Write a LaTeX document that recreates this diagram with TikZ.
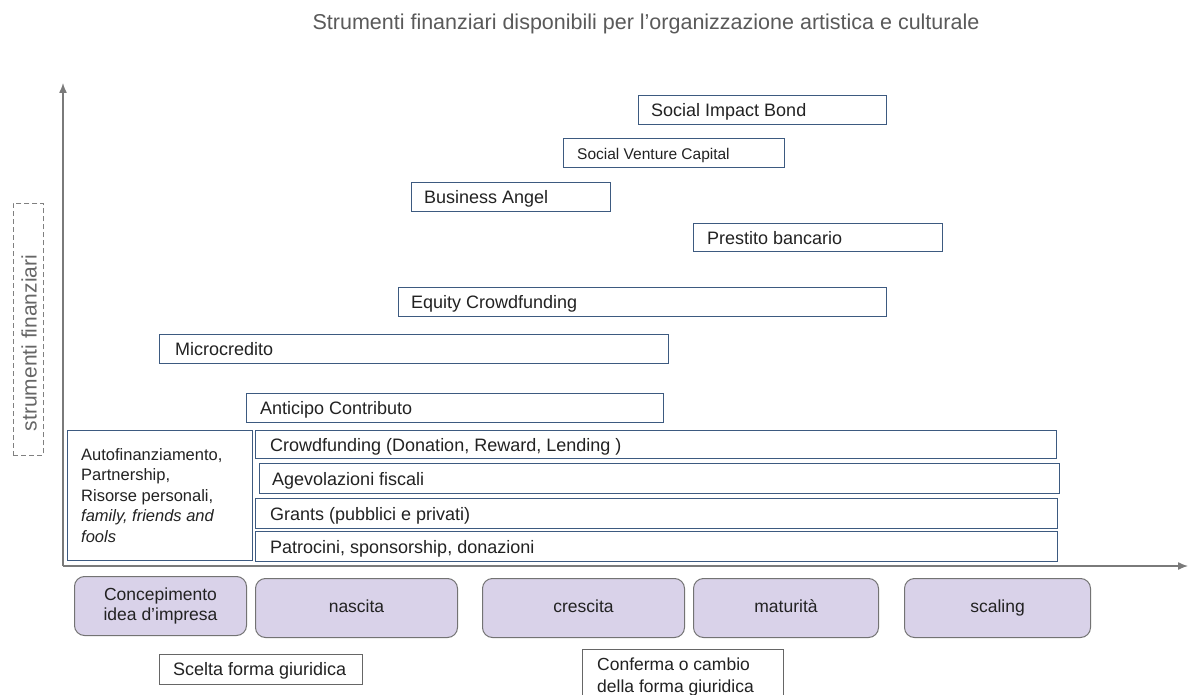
\documentclass[tikz,border=0pt]{standalone}
\usepackage{fontspec}
\setmainfont{Liberation Sans}
\usetikzlibrary{arrows.meta}
\definecolor{bx}{HTML}{3D5A80}
\definecolor{stg}{HTML}{D9D2E9}
\definecolor{axc}{HTML}{7A7A7A}
\definecolor{tit}{HTML}{5A5A5A}
\definecolor{txt}{HTML}{222222}
\begin{document}
\begin{tikzpicture}[x=1pt,y=-1pt,
  fbox/.style={draw=bx, line width=1.2pt, inner sep=0pt, anchor=north west},
  gbox/.style={draw=black!60, line width=0.9pt, inner sep=0pt, anchor=north west},
  lbl/.style={anchor=west, inner sep=0pt, yshift=-2pt, text=txt, text height=13pt, text depth=4pt, font=\fontsize{18}{21}\selectfont},
  stage/.style={draw=black!55, fill=stg, rounded corners=10pt, line width=1pt, inner sep=0pt,
     anchor=north west, align=center, text=txt, font=\fontsize{17.5}{21}\selectfont},
  axis/.style={draw=axc, line width=1.4pt, -{Latex[length=10pt,width=8pt]}}]
\useasboundingbox (0,0) rectangle (1191,695);
\clip (0,0) rectangle (1191,695);
\fill[white] (0,0) rectangle (1191,695);

% title
\node[text=tit, font=\fontsize{21.5}{25}\selectfont, inner sep=0pt] (title) at (646,24)
  {Strumenti finanziari disponibili per l’organizzazione artistica e culturale};

% axes
\coordinate (o) at (63,566);
\coordinate (ytip) at (63,83);
\coordinate (xtip) at (1188,566);
\draw[axis] (o) -- (ytip);
\draw[axis] (o) -- (xtip);

% y label
\node[draw=black!50, dashed, dash pattern=on 5pt off 3pt, line width=0.8pt,
  minimum width=30pt, minimum height=252pt, inner sep=0pt, anchor=north west] (ylab) at (13,203) {};
\node[rotate=90, text=black!60, font=\fontsize{21}{25}\selectfont, inner sep=0pt] (ytext) at (29,343) {strumenti finanziari};

% instrument boxes
\node[fbox, minimum width=248pt, minimum height=29pt] (sib) at (638,95) {};
\node[lbl] at ([xshift=13pt]sib.west) {Social Impact Bond};
\node[fbox, minimum width=221pt, minimum height=29pt] (svc) at (563,138) {};
\node[lbl, font=\fontsize{15.5}{19}\selectfont, text height=11.5pt, text depth=3.5pt] at ([xshift=14pt]svc.west) {Social Venture Capital};
\node[fbox, minimum width=199pt, minimum height=29pt] (ba) at (411,182) {};
\node[lbl] at ([xshift=13pt]ba.west) {Business Angel};
\node[fbox, minimum width=249pt, minimum height=28pt] (pb) at (693,223) {};
\node[lbl] at ([xshift=14pt]pb.west) {Prestito bancario};
\node[fbox, minimum width=488pt, minimum height=29pt] (ec) at (398,287) {};
\node[lbl] at ([xshift=13pt]ec.west) {Equity Crowdfunding};
\node[fbox, minimum width=509pt, minimum height=29pt] (mc) at (159,334) {};
\node[lbl] at ([xshift=16pt]mc.west) {Microcredito};
\node[fbox, minimum width=417pt, minimum height=29pt] (ac) at (246,393) {};
\node[lbl] at ([xshift=14pt]ac.west) {Anticipo Contributo};

\node[fbox, minimum width=185pt, minimum height=130pt] (af) at (67,430) {};
\node[anchor=north west, inner sep=0pt, align=left, text=txt, font=\fontsize{16.5}{20.5}\selectfont]
  (aftext) at (81,448) {Autofinanziamento,\\Partnership,\\Risorse personali,\\\textit{family, friends and}\\\textit{fools}};

\node[fbox, minimum width=801pt, minimum height=28pt] (cf) at (255,430) {};
\node[lbl] at ([xshift=15pt]cf.west) {Crowdfunding (Donation, Reward, Lending )};
\node[fbox, minimum width=800pt, minimum height=30pt] (ag) at (259,463) {};
\node[lbl] at ([xshift=13pt]ag.west) {Agevolazioni fiscali};
\node[fbox, minimum width=802pt, minimum height=30pt] (gr) at (255,498) {};
\node[lbl] at ([xshift=15pt]gr.west) {Grants (pubblici e privati)};
\node[fbox, minimum width=802pt, minimum height=30pt] (pa) at (255,531) {};
\node[lbl] at ([xshift=15pt]pa.west) {Patrocini, sponsorship, donazioni};

% stages
\node[stage, minimum width=172pt, minimum height=59pt, font=\fontsize{17.5}{20.5}\selectfont] (s1) at (74,576) {Concepimento\\idea d’impresa};
\node[stage, minimum width=202pt, minimum height=59pt, text height=13pt, text depth=4pt] (s2) at (255,578) {nascita};
\node[stage, minimum width=202pt, minimum height=59pt, text height=13pt, text depth=4pt] (s3) at (482,578) {crescita};
\node[stage, minimum width=185pt, minimum height=59pt, text height=13pt, text depth=4pt] (s4) at (693,578) {maturità};
\node[stage, minimum width=186pt, minimum height=59pt, text height=13pt, text depth=4pt] (s5) at (904,578) {scaling};

% legal form boxes
\node[gbox, minimum width=203pt, minimum height=30pt] (sf) at (159,654) {};
\node[lbl] at ([xshift=14pt]sf.west) {Scelta forma giuridica};
\node[gbox, minimum width=201pt, minimum height=60pt] (cm) at (582,649) {};
\node[anchor=north west, inner sep=0pt, align=left, text=txt, font=\fontsize{17.5}{21.5}\selectfont]
  (cmtext) at (597,658) {Conferma o cambio\\della forma giuridica};
\end{tikzpicture}
\end{document}
